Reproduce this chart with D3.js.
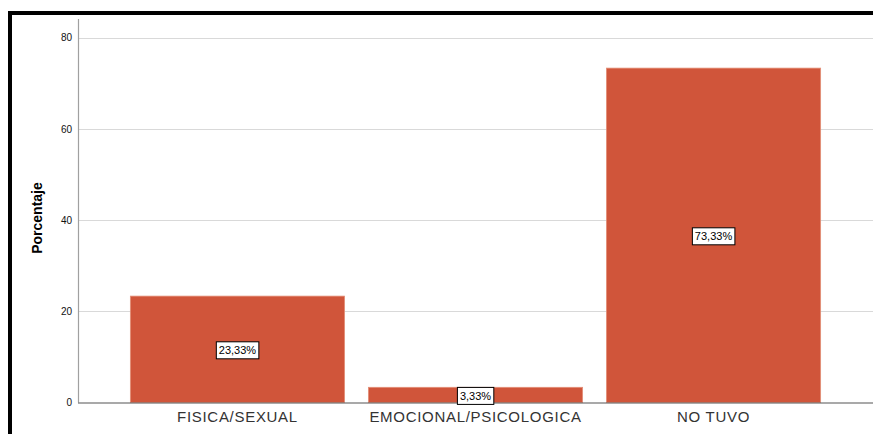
<!DOCTYPE html>
<html>
<head>
<meta charset="utf-8">
<script src="https://cdn.jsdelivr.net/npm/d3@7/dist/d3.min.js"></script>
<style>
  html, body { margin: 0; padding: 0; background: #fff; }
  svg { display: block; }
  text { font-family: "Liberation Sans", Arial, sans-serif; }
</style>
</head>
<body>
<svg id="chart" width="873" height="434"></svg>
<script>
// Categories and their percentages
const categories = ["FISICA/SEXUAL", "EMOCIONAL/PSICOLOGICA", "NO TUVO"];
const percentages = [23.33, 3.33, 73.33];
const yTicks = [0, 20, 40, 60, 80];
const yTitle = "Porcentaje";

const svg = d3.select("#chart");
const W = 873, H = 434;

// Plot area
const x0 = 78, x1 = 873, yBase = 402.5, yTop = 19;

const x = d3.scaleBand()
  .domain(categories)
  .range([x0, x1])
  .paddingInner(0.1)
  .paddingOuter(0.22);

const y = d3.scaleLinear()
  .domain([0, 80])
  .range([yBase, yBase - 80 * 4.56]);

// Frame edges (top and left)
svg.append("rect").attr("x", 8).attr("y", 11).attr("width", W - 8).attr("height", 4).attr("fill", "#000");
svg.append("rect").attr("x", 8).attr("y", 11).attr("width", 4).attr("height", H - 11).attr("fill", "#000");

// Horizontal gridlines
svg.append("g")
  .selectAll("line")
  .data(yTicks.filter(d => d > 0))
  .join("line")
  .attr("x1", x0).attr("x2", x1)
  .attr("y1", d => Math.round(y(d)) + 0.5)
  .attr("y2", d => Math.round(y(d)) + 0.5)
  .attr("stroke", "#d9d9d9")
  .attr("stroke-width", 1.2);

// Y axis
const yAxis = svg.append("g")
  .attr("transform", `translate(${x0},0)`)
  .call(d3.axisLeft(y).tickValues(yTicks).tickSize(0).tickPadding(6).tickFormat(d3.format("d")));
yAxis.select(".domain").remove();
yAxis.selectAll("text")
  .attr("font-size", 10)
  .attr("fill", "#111");
svg.append("line")
  .attr("x1", x0 + 0.5).attr("x2", x0 + 0.5)
  .attr("y1", yTop).attr("y2", yBase)
  .attr("stroke", "#a0a0a0").attr("stroke-width", 1.2);

// Y axis title
svg.append("text")
  .attr("transform", `translate(42,218) rotate(-90)`)
  .attr("text-anchor", "middle")
  .attr("font-size", 14)
  .attr("font-weight", "bold")
  .attr("fill", "#000")
  .text(yTitle);

// Bars
const data = categories.map((c, i) => ({ cat: c, val: percentages[i] }));
svg.append("g")
  .selectAll("rect")
  .data(data)
  .join("rect")
  .attr("x", d => x(d.cat))
  .attr("y", d => y(d.val))
  .attr("width", x.bandwidth())
  .attr("height", d => yBase - y(d.val))
  .attr("fill", "#d0553a")
  .attr("stroke", "#e38f78")
  .attr("stroke-width", 0.8);

// Baseline
svg.append("line")
  .attr("x1", x0).attr("x2", x1)
  .attr("y1", yBase + 0.5).attr("y2", yBase + 0.5)
  .attr("stroke", "#555").attr("stroke-width", 1.2);

// X category labels
const xAxis = svg.append("g")
  .attr("transform", `translate(0,${yBase})`)
  .call(d3.axisBottom(x).tickSize(0).tickPadding(9));
xAxis.select(".domain").remove();
xAxis.selectAll("text")
  .attr("font-size", 15)
  .attr("letter-spacing", "0.7px")
  .attr("fill", "#333");

// Value labels in boxes
const fmt = v => v.toFixed(2).replace(".", ",") + "%";
const lbl = svg.append("g")
  .selectAll("g")
  .data(data)
  .join("g")
  .attr("transform", d => `translate(${x(d.cat) + x.bandwidth() / 2},${(y(d.val) + yBase) / 2 + 1})`);
lbl.append("text")
  .attr("text-anchor", "middle")
  .attr("dy", "0.35em")
  .attr("font-size", 11)
  .attr("fill", "#000")
  .text(d => fmt(d.val));
lbl.each(function () {
  const g = d3.select(this);
  const bb = g.select("text").node().getBBox();
  g.insert("rect", "text")
    .attr("x", bb.x - 2.5)
    .attr("y", -8.5)
    .attr("width", bb.width + 5)
    .attr("height", 17)
    .attr("fill", "#fff")
    .attr("stroke", "#000")
    .attr("stroke-width", 1);
});
</script>
</body>
</html>
